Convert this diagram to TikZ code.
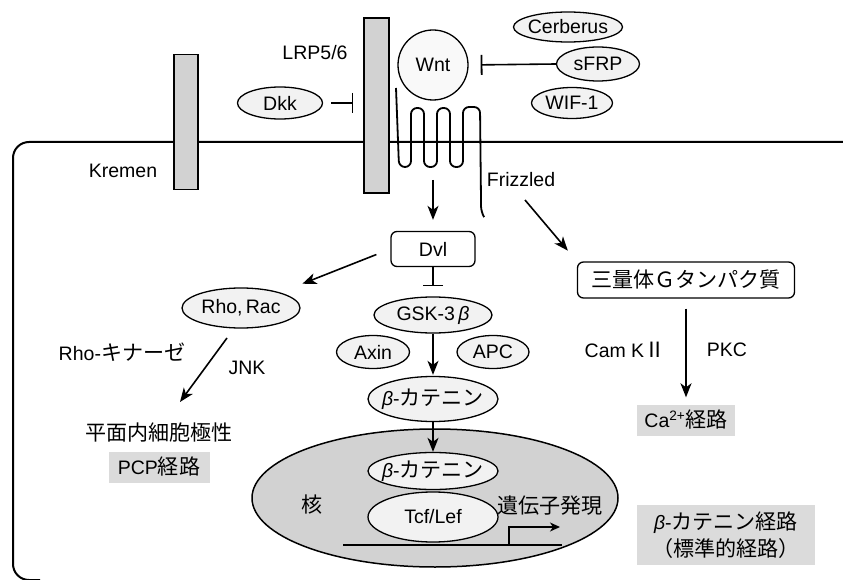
\documentclass[tikz,border=0pt]{standalone}
\usepackage{fontspec}
\setmainfont{Liberation Sans}
\newfontfamily\cjk[Scale=1.08]{Noto Sans CJK JP}
\usetikzlibrary{shapes.geometric,arrows.meta,calc}
\begin{document}
\begin{tikzpicture}[x=1pt,y=-1pt,
  every node/.style={font=\fontsize{19.5}{27}\selectfont, inner sep=0pt},
  ell/.style={ellipse, draw, line width=1.3pt, fill=gray!10},
  rbar/.style={draw, line width=1.3pt, fill=gray!35},
  arr/.style={line width=1.6pt, -{Stealth[length=14pt,width=11pt,inset=4pt]}},
  inh/.style={line width=1.6pt, -{Bar[width=20pt,line width=1.8pt]}},
  hl/.style={fill=gray!28, inner sep=3pt},
  rbox/.style={draw, rounded corners=6pt, line width=1.3pt, fill=white}]
\useasboundingbox (0,0) rectangle (843,580);
% cell membrane
\draw[line width=2pt, rounded corners=16pt] (843,142) -- (13,142) -- (13,580) -- (40,580);
% receptors
\node[rbar, minimum width=24pt, minimum height=135pt] (kremen) at (186,122) {};
\node[rbar, minimum width=25pt, minimum height=175pt] (lrp) at (376.5,105.5) {};
% frizzled coil
\draw[line width=1.8pt, rounded corners=6pt] (396,88) -- (399,167) -- (411,167) -- (411,108) -- (424,108) -- (424,167) -- (437,167) -- (437,108) -- (450,108) -- (450,167) -- (463,167) -- (463,107) -- (480,107) -- (481,200) -- (481,212) -- (484,217);
% labels
\node (kremenlbl) at (123,171) {Kremen};
\node (lrplbl) at (315,53) {LRP5/6};
\node (fzlbl) at (521,180) {Frizzled};
% extracellular
\node[circle, draw, line width=1.3pt, fill=gray!5, minimum size=70pt] (wnt) at (433,65) {Wnt};
\node[ell, minimum width=85pt, minimum height=32pt] (dkk) at (280,103) {Dkk};
\node[ell, minimum width=109pt, minimum height=30pt, inner xsep=-3pt] (cerb) at (568,27) {Cerberus};
\node[ell, minimum width=83pt, minimum height=34pt] (sfrp) at (598,64) {sFRP};
\node[ell, minimum width=81pt, minimum height=31pt] (wif) at (572,103) {WIF-1};
% intracellular
\node[rbox, minimum width=84pt, minimum height=35pt] (dvl) at (433,249) {Dvl};
\node[ell, minimum width=118pt, minimum height=36pt] (gsk) at (433,315) {GSK-3\,\textit{β}};
\node[ell, minimum width=73pt, minimum height=33pt] (axin) at (373,352) {Axin};
\node[ell, minimum width=72pt, minimum height=33pt] (apc) at (493,352) {APC};
\node[ell, minimum width=130pt, minimum height=45pt, inner xsep=-6pt] (bcat) at (433,399) {\textit{β}-{\cjk カテニン}};
\node[ell, minimum width=118pt, minimum height=40pt] (rho) at (241,308) {Rho,\,Rac};
\node (rhok) at (122,352) {Rho-{\cjk キナーゼ}};
\node (jnk) at (247,368) {JNK};
\node (pcpt) at (159,433) {\cjk 平面内細胞極性};
\node[hl, minimum width=101pt, minimum height=31pt] (pcp) at (159,467) {PCP{\cjk 経路}};
\node[rbox, minimum width=217pt, minimum height=36pt] (gprot) at (686,280) {\cjk 三量体Ｇタンパク質};
\node (camk) at (625,350) {Cam K{\cjk Ⅱ}};
\node (pkc) at (727,350) {PKC};
\node[hl, minimum width=98pt, minimum height=31pt] (ca) at (686,420) {Ca\textsuperscript{2+}{\cjk 経路}};
% nucleus
\node[ellipse, draw, line width=1.5pt, fill=gray!35, minimum width=366pt, minimum height=138pt] (nuc) at (435,498) {};
\node[ell, minimum width=130pt, minimum height=37pt, inner xsep=-6pt] (bcat2) at (433,471) {\textit{β}-{\cjk カテニン}};
\node[ell, minimum width=130pt, minimum height=50pt] (tcf) at (433,517) {Tcf/Lef};
\node (kaku) at (312,505) {\cjk 核};
\node (gene) at (550,506) {\cjk 遺伝子発現};
\coordinate (dnaA) at (343,545);
\coordinate (dnaB) at (562,545);
\coordinate (tss) at (509,545);
\coordinate (tssEnd) at (560,527);
\draw[line width=1.5pt] (dnaA) -- (dnaB);
\draw[line width=1.3pt, -{Stealth[length=10pt,width=9pt,inset=3pt]}] (tss) |- (tssEnd);
\node[hl, minimum width=178pt, minimum height=60pt, align=center] (bpath) at (726,535) {\textit{β}-{\cjk カテニン経路}\\{\cjk （標準的経路）}};
% connectors
\draw[inh, shorten <=8pt, shorten >=10pt] (dkk.east) -- (lrp.west |- dkk.east);
\draw[inh, shorten >=12pt] (sfrp.west) -- (wnt.east);
\coordinate (fzb) at (433,180);
\draw[arr, shorten >=11pt] (fzb) -- (dvl.north);
\coordinate (fzr) at (525,200);
\draw[arr, shorten >=14pt] (fzr) -- (gprot.north west);
\draw[arr, shorten <=15pt, shorten >=66pt] (dvl.west) -- (rho.center);
\coordinate (jnkS) at (227,338);
\coordinate (jnkE) at (180,402);
\draw[arr] (jnkS) -- (jnkE);
\draw[inh, shorten >=10pt] (dvl.south) -- (gsk.north);
\draw[arr, shorten >=1pt] (gsk.south) -- (bcat.north);
\draw[arr] (bcat.south) -- (bcat2.north);
\draw[arr, shorten <=10pt, shorten >=7pt] (gprot.south) -- (ca.north);
\end{tikzpicture}
\end{document}
